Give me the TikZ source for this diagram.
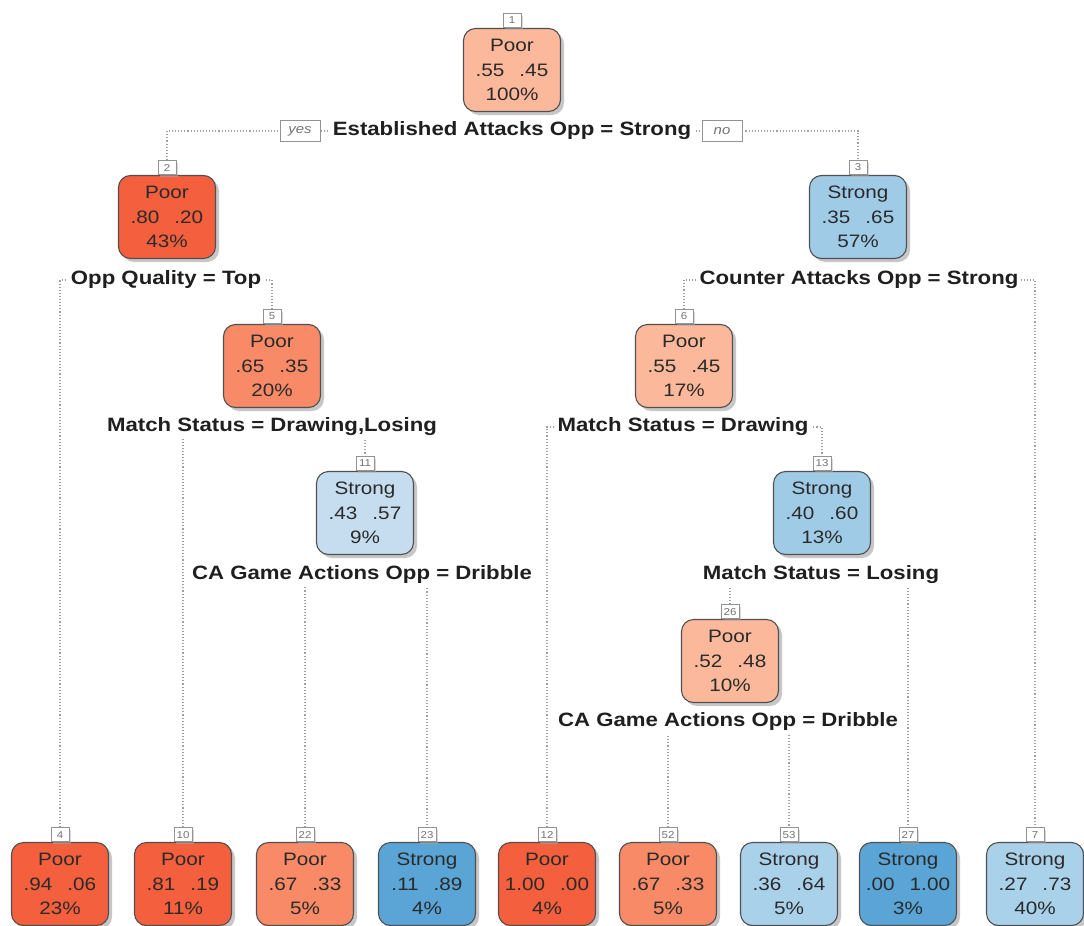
\documentclass[tikz,border=0pt]{standalone}
\usepackage{fontspec}
\setmainfont[FakeStretch=1.15]{Liberation Sans}
\usetikzlibrary{shadows}
\pgfdeclarelayer{back}
\pgfdeclarelayer{bg}
\pgfsetlayers{back,bg,main}

\definecolor{boxline}{HTML}{505050}
\definecolor{boxtext}{HTML}{2A2A2A}
\definecolor{poorDeep}{HTML}{F45F3D}
\definecolor{poorMid}{HTML}{F88A67}
\definecolor{poorLight}{HTML}{FCB89B}
\definecolor{strongPale}{HTML}{C6DDF0}
\definecolor{strongMid}{HTML}{A0CBE6}
\definecolor{strongSoft}{HTML}{AAD1EA}
\definecolor{strongDeep}{HTML}{5AA4D6}

\tikzset{
  treebox/.style={draw=boxline, line width=1.1pt, rounded corners=12pt,
    minimum width=97pt, minimum height=83pt, inner sep=0pt, align=center,
    font=\fontsize{18}{24.5}\selectfont, text=boxtext,
    drop shadow={shadow xshift=3.5pt, shadow yshift=-3.5pt, fill=black!40, opacity=0.55}},
  nodetag/.style={draw=gray!85, fill=white, line width=0.8pt,
    font=\fontsize{10}{10}\selectfont, text=gray!90!black,
    inner sep=1pt, minimum height=14pt, minimum width=18pt, anchor=south,
    drop shadow={shadow xshift=2pt, shadow yshift=-2pt, fill=black!30, opacity=0.5}},
  splitlabel/.style={fill=white, inner sep=2.5pt, text=black!88,
    font=\fontsize{19.3}{20}\selectfont\bfseries},
  yesno/.style={draw=gray!85, fill=white, line width=0.9pt, text=gray!90!black,
    font=\fontsize{13}{13}\selectfont\itshape, minimum width=40pt,
    minimum height=21pt, inner sep=1pt},
  branch/.style={draw=gray!75, dotted, line width=1.1pt}
}
\newcommand{\gap}{\hspace{15pt}}

\begin{document}
\begin{tikzpicture}[x=1pt, y=-1pt]
\begin{pgfonlayer}{back}
  \fill[white] (0,0) rectangle (1084,926);
\end{pgfonlayer}
\useasboundingbox (0,0) rectangle (1084,926);

% ---- internal nodes ----
\node[treebox, fill=poorLight]  (n1)  at (512,70)  {Poor\\.55\gap.45\\100\%};
\node[treebox, fill=poorDeep]   (n2)  at (167,217) {Poor\\.80\gap.20\\43\%};
\node[treebox, fill=strongMid]  (n3)  at (858,217) {Strong\\.35\gap.65\\57\%};
\node[treebox, fill=poorMid]    (n5)  at (272,366) {Poor\\.65\gap.35\\20\%};
\node[treebox, fill=poorLight]  (n6)  at (684,366) {Poor\\.55\gap.45\\17\%};
\node[treebox, fill=strongPale] (n11) at (365,513) {Strong\\.43\gap.57\\9\%};
\node[treebox, fill=strongMid]  (n13) at (822,513) {Strong\\.40\gap.60\\13\%};
\node[treebox, fill=poorLight]  (n26) at (730,661) {Poor\\.52\gap.48\\10\%};

% ---- leaves ----
\node[treebox, fill=poorDeep]   (n4)  at (60,884)   {Poor\\.94\gap.06\\23\%};
\node[treebox, fill=poorDeep]   (n10) at (183,884)  {Poor\\.81\gap.19\\11\%};
\node[treebox, fill=poorMid]    (n22) at (305,884)  {Poor\\.67\gap.33\\5\%};
\node[treebox, fill=strongDeep] (n23) at (427,884)  {Strong\\.11\gap.89\\4\%};
\node[treebox, fill=poorDeep]   (n12) at (547,884)  {Poor\\1.00\gap.00\\4\%};
\node[treebox, fill=poorMid]    (n52) at (668,884)  {Poor\\.67\gap.33\\5\%};
\node[treebox, fill=strongSoft] (n53) at (789,884)  {Strong\\.36\gap.64\\5\%};
\node[treebox, fill=strongDeep] (n27) at (908,884)  {Strong\\.00\gap1.00\\3\%};
\node[treebox, fill=strongSoft] (n7)  at (1035,884) {Strong\\.27\gap.73\\40\%};

% ---- node number tags ----
\foreach \k in {1,2,3,4,5,6,7,10,11,12,13,22,23,26,27,52,53}
  \node[nodetag] (t\k) at (n\k.north) {\k};

% ---- split labels ----
\node[splitlabel] (s1)  at (512,131) {Established Attacks Opp = Strong};
\node[yesno]      (yes) at (300,131) {yes};
\node[yesno]      (no)  at (722,131) {no};
\node[splitlabel] (s2)  at (166,280) {Opp Quality = Top};
\node[splitlabel] (s3)  at (859,280) {Counter Attacks Opp = Strong};
\node[splitlabel] (s5)  at (272,427) {Match Status = Drawing,Losing};
\node[splitlabel] (s6)  at (683,427) {Match Status = Drawing};
\node[splitlabel] (s11) at (362,575) {CA Game Actions Opp = Dribble};
\node[splitlabel] (s13) at (821,575) {Match Status = Losing};
\node[splitlabel] (s26) at (728,722) {CA Game Actions Opp = Dribble};

% ---- branches ----
\begin{pgfonlayer}{bg}
  \draw[branch] (t2.north)  |- (s1.center)  -| (t3.north);
  \draw[branch] (t4.north)  |- (s2.center)  -| (t5.north);
  \draw[branch] (t6.north)  |- (s3.center)  -| (t7.north);
  \draw[branch] (t10.north) |- (s5.center)  -| (t11.north);
  \draw[branch] (t12.north) |- (s6.center)  -| (t13.north);
  \draw[branch] (t22.north) |- (s11.center) -| (t23.north);
  \draw[branch] (t26.north) |- (s13.center) -| (t27.north);
  \draw[branch] (t52.north) |- (s26.center) -| (t53.north);
\end{pgfonlayer}
\end{tikzpicture}
\end{document}
